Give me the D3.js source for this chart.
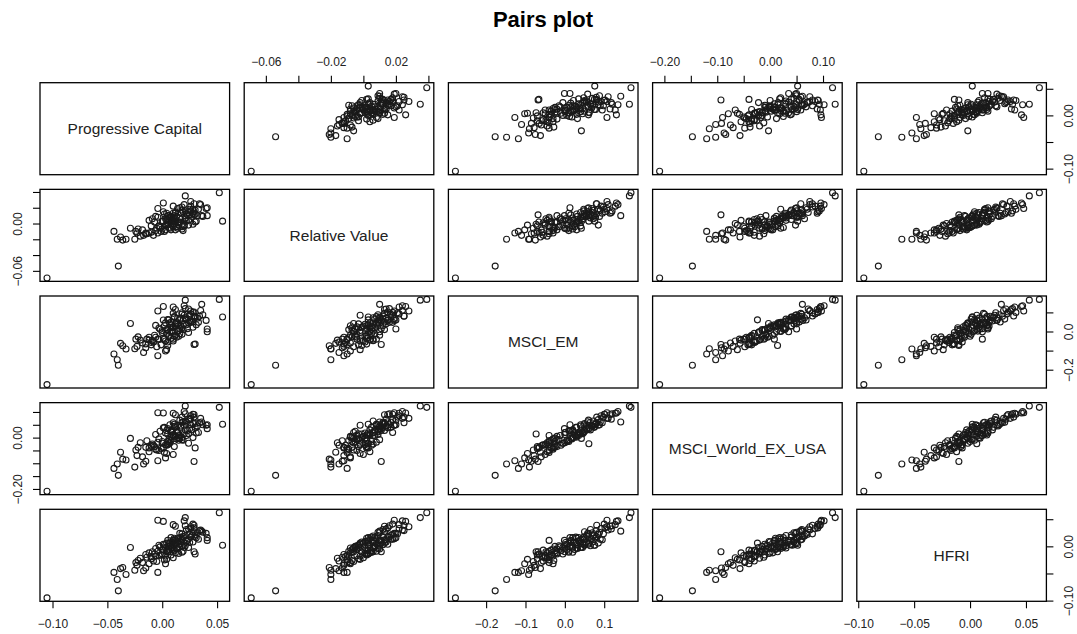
<!DOCTYPE html>
<html>
<head>
<meta charset="utf-8">
<script src="https://cdn.jsdelivr.net/npm/d3@7"></script>
<style>
  body { margin: 0; background: #fff; }
  svg { font-family: "Liberation Sans", Arial, sans-serif; }
</style>
</head>
<body>
<svg id="chart" width="1077" height="634"></svg>
<script>
/*
 *** Data (monthly returns)
 */
var varNames = ["Progressive Capital", "Relative Value", "MSCI_EM", "MSCI_World_EX_USA", "HFRI"];

var pcValues = [
    -0.105, -0.040, 0.052, 0.055, 0.021, 0.036, -0.044, -0.041, -0.029, 0.029, -0.004, 0.003, -0.033, -0.025, -0.036, -0.023, -0.038, -0.024, -0.022, -0.017, -0.015, 0.041, 0.041, 0.030, 0.005, 0.010, 0.006,
    -0.018, -0.008, 0.004, -0.012, -0.020, 0.010, -0.005, -0.014, 0.002, -0.010,
    -0.006, 0.008, -0.015, 0.000, 0.012, -0.003, 0.005, -0.010, 0.015, -0.001, 0.007, -0.012, 0.003, 0.018, -0.007,
    0.004, 0.010, -0.004, 0.014, 0.001, 0.008, -0.009, 0.020, 0.006, -0.002, 0.011, 0.016, 0.000, 0.009, 0.024, -0.006, 0.013, 0.005, 0.003, 0.019,
    0.008, 0.015, 0.002, 0.012, 0.021, 0.006, 0.017, 0.010, -0.003, 0.025, 0.014, 0.007, 0.018, 0.004, 0.022, 0.011, 0.028, 0.009, 0.001, 0.016, 0.013, 0.020,
    0.012, 0.024, 0.018, 0.008, 0.030, 0.015, 0.026, 0.005, 0.021, 0.033, 0.017, 0.010, 0.027, 0.014, 0.031, 0.019, 0.023, 0.011,
    0.025, 0.032, 0.018, 0.028, 0.035, 0.022, 0.030, 0.026, 0.037, 0.016, 0.029, 0.034, 0.024, 0.040,
    0.010, 0.021, 0.001, -0.004, 0.020, 0.026, 0.029, 0.028, 0.012
];

var rvValues = [
    -0.069, -0.054, 0.039, 0.003, 0.035, 0.010, -0.010, -0.020, -0.006, 0.011, -0.012, -0.008, -0.020, -0.020, -0.021, -0.012, -0.017, -0.010, -0.007, -0.015, -0.013, 0.010, 0.020, 0.002, -0.001, 0.006, 0.003,
    -0.008, -0.015, -0.002, -0.012, -0.016, 0.000, -0.006, -0.013, -0.010, -0.003,
    -0.009, 0.002, -0.012, 0.003, -0.008, -0.004, 0.005, -0.011, 0.001, -0.010, -0.006, 0.004, -0.002, -0.007, 0.002,
    0.005, -0.004, 0.008, -0.006, 0.003, -0.008, 0.006, -0.003, 0.010, -0.005, 0.002, 0.007, -0.007, 0.004, -0.002, 0.009, -0.004, 0.001, 0.006, -0.009,
    0.009, -0.002, 0.012, 0.000, 0.007, -0.005, 0.014, 0.004, -0.003, 0.011, 0.001, 0.008, -0.004, 0.013, 0.003, 0.010, -0.001, 0.006, 0.015, 0.002, 0.009, -0.002,
    0.014, 0.004, 0.017, 0.007, 0.012, 0.002, 0.016, 0.010, 0.006, 0.018, 0.005, 0.013, 0.009, 0.019, 0.003, 0.015, 0.011, 0.008,
    0.018, 0.010, 0.021, 0.013, 0.024, 0.012, 0.017, 0.022, 0.009, 0.020, 0.015, 0.025, 0.014, 0.019,
    0.022, 0.016, 0.026, 0.019, 0.024, 0.028, 0.025, 0.018, 0.013
];

var emValues = [
    -0.278, -0.177, 0.168, 0.076, 0.164, 0.142, -0.118, -0.148, 0.042, -0.068, -0.127, -0.102, -0.092, -0.090, -0.075, -0.078, -0.062, -0.040, -0.028, -0.110, -0.085, -0.001, 0.013, -0.066, -0.073, -0.040, 0.061,
    -0.060, -0.055, -0.095, -0.030, -0.045, -0.050, -0.080, -0.040, -0.040, -0.070,
    -0.030, -0.035, -0.065, -0.005, -0.020, -0.040, 0.010, -0.058, -0.025, -0.070, 0.000, -0.045, -0.050, 0.020, -0.020,
    -0.010, 0.025, -0.040, 0.000, -0.035, 0.030, -0.048, 0.040, -0.020, 0.012, -0.025, -0.012, 0.005, 0.020, -0.005, 0.032, -0.030, -0.055, 0.045, 0.010,
    0.050, 0.005, 0.030, 0.028, 0.065, -0.025, 0.070, 0.000, 0.018, 0.055, 0.038, 0.040, -0.015, 0.010, 0.035, 0.075, 0.022, 0.002, 0.060, 0.015, 0.045, 0.085,
    0.040, 0.045, 0.090, 0.020, 0.080, 0.030, 0.048, 0.062, 0.072, 0.048, 0.028, 0.095, 0.055, 0.068, 0.035, 0.058, 0.015, 0.078,
    0.085, 0.070, 0.098, 0.050, 0.110, 0.065, 0.075, 0.092, 0.088, 0.060, 0.102, 0.080, 0.118, 0.058,
    0.128, 0.120, 0.131, 0.107, 0.135, 0.107, 0.081, 0.100, 0.115
];

var worldValues = [
    -0.209, -0.147, 0.118, 0.052, 0.123, 0.061, -0.120, -0.103, -0.003, -0.093, -0.090, -0.079, -0.087, -0.115, -0.084, -0.070, -0.057, -0.048, -0.038, -0.103, -0.092, 0.035, 0.050, -0.040, 0.014, 0.008, -0.024,
    -0.075, -0.030, -0.062, -0.040, -0.020, -0.066, -0.048, -0.012, -0.058, -0.035,
    -0.045, -0.010, -0.038, -0.022, 0.005, -0.050, -0.015, -0.030, -0.002, -0.042, -0.020, -0.055, -0.028, 0.000, -0.035,
    -0.030, 0.010, -0.018, 0.020, -0.040, 0.002, -0.025, 0.015, -0.008, 0.025, -0.035, 0.008, -0.015, 0.030, -0.022, 0.012, -0.005, -0.028, 0.018, -0.010,
    0.025, -0.010, 0.040, 0.005, 0.030, -0.015, 0.045, 0.012, -0.005, 0.035, 0.018, 0.050, -0.008, 0.028, 0.008, 0.042, 0.000, 0.020, 0.038, -0.002, 0.022, 0.048,
    0.045, 0.015, 0.060, 0.025, 0.055, 0.010, 0.050, 0.035, 0.065, 0.020, 0.040, 0.058, 0.030, 0.048, 0.018, 0.062, 0.028, 0.052,
    0.070, 0.045, 0.080, 0.055, 0.075, 0.060, 0.040, 0.085, 0.050, 0.068, 0.090, 0.058, 0.072, 0.048,
    0.095, 0.093, 0.096, 0.097, 0.102, 0.075, 0.080, 0.091, 0.089
];

var hfriValues = [
    -0.095, -0.082, 0.062, 0.002, 0.053, 0.028, -0.048, -0.061, -0.002, -0.010, -0.048, -0.032, -0.052, -0.044, -0.039, -0.035, -0.041, -0.030, -0.026, -0.045, -0.040, 0.011, 0.016, -0.014, -0.010, 0.011, 0.006,
    -0.030, -0.027, -0.024, -0.032, -0.022, -0.021, -0.028, -0.020, -0.025, -0.023,
    -0.018, -0.016, -0.015, -0.014, -0.012, -0.017, -0.011, -0.019, -0.013, -0.016, -0.010, -0.012, -0.018, -0.011, -0.014,
    -0.008, -0.006, -0.009, -0.004, -0.007, -0.003, -0.010, -0.002, -0.005, -0.001, -0.008, -0.001, -0.006, -0.003, -0.002, -0.004, -0.005, -0.007, -0.002, -0.009,
    0.002, 0.004, 0.003, 0.006, 0.001, 0.000, 0.008, 0.003, 0.002, 0.007, 0.009, 0.005, 0.001, 0.006, 0.010, 0.002, 0.008, 0.007, 0.004, 0.009, 0.005, 0.006,
    0.012, 0.014, 0.013, 0.016, 0.018, 0.015, 0.017, 0.011, 0.019, 0.013, 0.017, 0.012, 0.020, 0.014, 0.016, 0.018, 0.011, 0.015,
    0.022, 0.025, 0.023, 0.027, 0.030, 0.031, 0.021, 0.033, 0.026, 0.024, 0.034, 0.029, 0.032, 0.024,
    0.040, 0.038, 0.046, 0.048, 0.047, 0.036, 0.039, 0.041, 0.037
];

// tick positions and which of them carry a label (R drops overlapping ones)
var tickValues = [
    [-0.10, -0.05, 0.00, 0.05],
    [-0.06, -0.04, -0.02, 0.00, 0.02, 0.04],
    [-0.2, -0.1, 0.0, 0.1],
    [-0.20, -0.15, -0.10, -0.05, 0.00, 0.05, 0.10],
    [-0.10, -0.05, 0.00, 0.05]
];
var xTickLabels = [
    [-0.10, -0.05, 0.00, 0.05],
    [-0.06, -0.02, 0.02],
    [-0.2, -0.1, 0.0, 0.1],
    [-0.20, -0.10, 0.00, 0.10],
    [-0.10, -0.05, 0.00, 0.05]
];
var yTickLabels = [
    [-0.10, 0.00],
    [-0.06, 0.00],
    [-0.2, 0.0],
    [-0.20, 0.00],
    [-0.10, 0.00]
];
var tickFormats = [".2f", ".2f", ".1f", ".2f", ".2f"];

var series = [pcValues, rvValues, emValues, worldValues, hfriValues];

/*
 *** Layout
 */
var svg = d3.select("#chart");
var colLeft = 40, colStep = 204.2, cellW = 189.6;
var rowTop = 82.7, rowStep = 106.65, cellH = 92;
var nVars = series.length;

svg.append("text")
    .attr("x", 543)
    .attr("y", 27)
    .attr("text-anchor", "middle")
    .attr("font-size", "22px")
    .attr("font-weight", "bold")
    .attr("fill", "#000")
    .text("Pairs plot");

var xScales = [], yScales = [];
series.forEach(function(v, k){
    var ext = d3.extent(v);
    var pad = (ext[1] - ext[0]) * 0.04;
    var x0 = colLeft + k * colStep;
    var y0 = rowTop + k * rowStep;
    xScales[k] = d3.scaleLinear().domain([ext[0] - pad, ext[1] + pad]).range([x0, x0 + cellW]);
    yScales[k] = d3.scaleLinear().domain([ext[0] - pad, ext[1] + pad]).range([y0 + cellH, y0]);
});

function isLabelled(list, d){
    for(var i = 0; i < list.length; i++){
        if(Math.abs(list[i] - d) < 1e-9) return true;
    }
    return false;
}

/*
 *** Cells: scatter off the diagonal, variable name on it
 */
for(var i = 0; i < nVars; i++){
    for(var j = 0; j < nVars; j++){
        var cx0 = colLeft + j * colStep;
        var cy0 = rowTop + i * rowStep;
        var cell = svg.append("g").attr("class", "cell");

        if(i === j){
            cell.append("text")
                .attr("x", cx0 + cellW / 2)
                .attr("y", cy0 + cellH / 2)
                .attr("dy", "0.35em")
                .attr("text-anchor", "middle")
                .attr("font-size", "15.5px")
                .attr("fill", "#222")
                .text(varNames[i]);
        } else {
            var xv = series[j], yv = series[i];
            var xS = xScales[j], yS = yScales[i];
            cell.selectAll("circle")
                .data(d3.range(xv.length))
                .enter().append("circle")
                .attr("cx", function(t){ return xS(xv[t]); })
                .attr("cy", function(t){ return yS(yv[t]); })
                .attr("r", 3)
                .attr("fill", "none")
                .attr("stroke", "#1a1a1a")
                .attr("stroke-width", 1.1);
        }

        cell.append("rect")
            .attr("x", cx0)
            .attr("y", cy0)
            .attr("width", cellW)
            .attr("height", cellH)
            .attr("fill", "none")
            .attr("stroke", "#000")
            .attr("stroke-width", 1.3);
    }
}

/*
 *** Outer axes, alternating sides like R's pairs()
 */
function styleAxis(g){
    g.select(".domain").remove();
    g.selectAll(".tick line").attr("stroke", "#000").attr("stroke-width", 1.1);
    g.selectAll(".tick text").attr("font-size", "12px").attr("fill", "#222")
        .attr("font-family", "\"Liberation Sans\", Arial, sans-serif");
}

for(var k = 0; k < nVars; k++){
    (function(k){
        var fmt = d3.format(tickFormats[k]);
        var xFmt = function(d){ return isLabelled(xTickLabels[k], d) ? fmt(d) : ""; };
        var yFmt = function(d){ return isLabelled(yTickLabels[k], d) ? fmt(d) : ""; };

        // x axis of column k
        var gx;
        if(k % 2 === 1){
            gx = svg.append("g")
                .attr("transform", "translate(0," + rowTop + ")")
                .call(d3.axisTop(xScales[k]).tickValues(tickValues[k]).tickSize(7).tickSizeOuter(0).tickPadding(10).tickFormat(xFmt));
        } else {
            gx = svg.append("g")
                .attr("transform", "translate(0," + (rowTop + (nVars - 1) * rowStep + cellH) + ")")
                .call(d3.axisBottom(xScales[k]).tickValues(tickValues[k]).tickSize(7).tickSizeOuter(0).tickPadding(11).tickFormat(xFmt));
        }
        styleAxis(gx);

        // y axis of row k
        var gy, side;
        if(k % 2 === 1){
            side = -1;
            gy = svg.append("g")
                .attr("transform", "translate(" + colLeft + ",0)")
                .call(d3.axisLeft(yScales[k]).tickValues(tickValues[k]).tickSize(7).tickSizeOuter(0).tickFormat(yFmt));
        } else {
            side = 1;
            gy = svg.append("g")
                .attr("transform", "translate(" + (colLeft + (nVars - 1) * colStep + cellW) + ",0)")
                .call(d3.axisRight(yScales[k]).tickValues(tickValues[k]).tickSize(7).tickSizeOuter(0).tickFormat(yFmt));
        }
        styleAxis(gy);
        gy.selectAll(".tick text")
            .attr("transform", "rotate(-90)")
            .attr("x", 0)
            .attr("y", side * 22)
            .attr("dy", "0.35em")
            .attr("text-anchor", "middle");
    })(k);
}
</script>
</body>
</html>
